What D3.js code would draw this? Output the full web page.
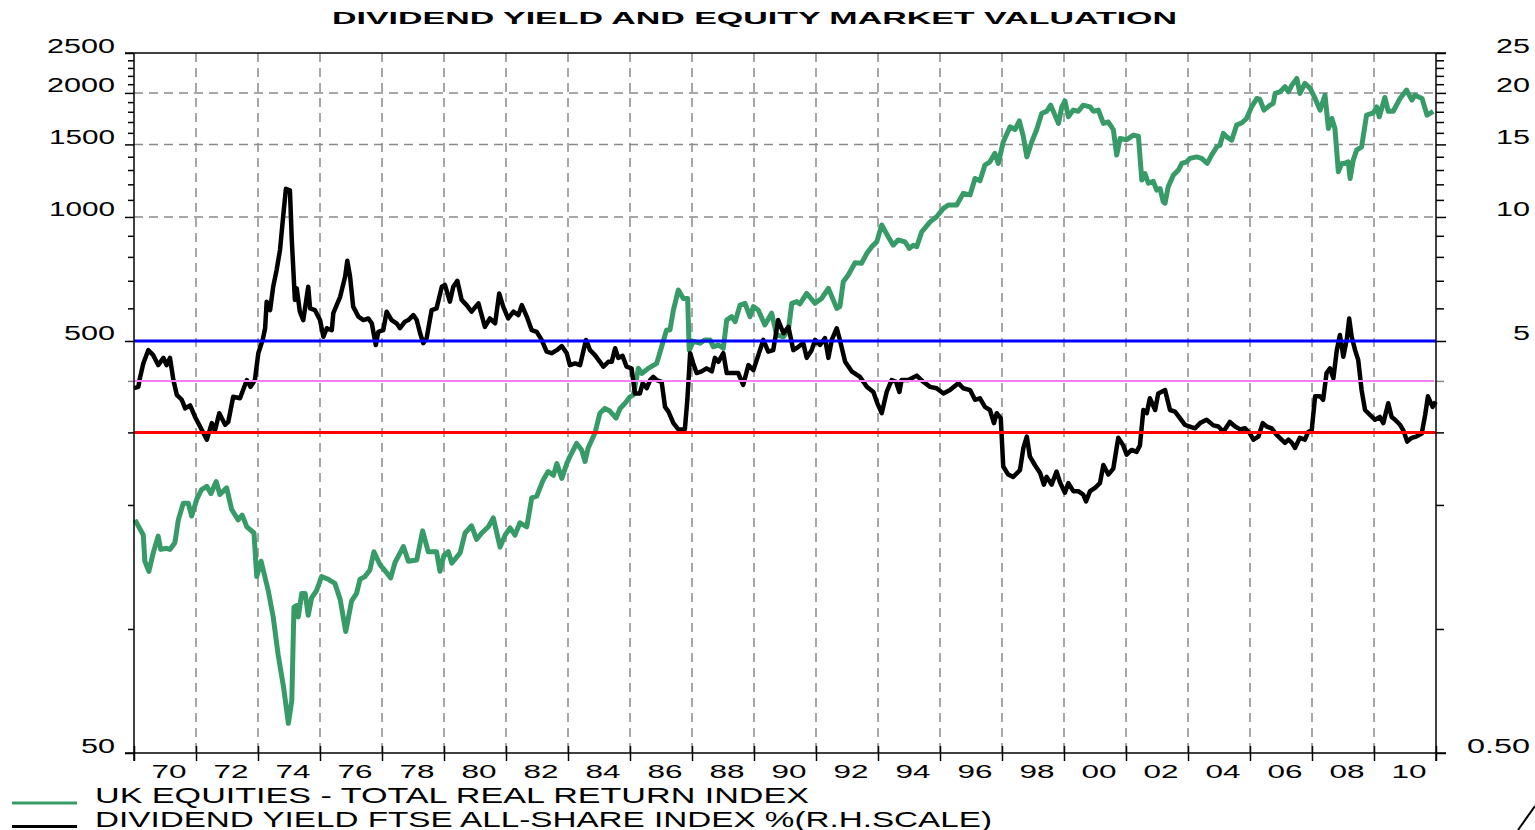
<!DOCTYPE html>
<html>
<head>
<meta charset="utf-8">
<script src="https://cdn.jsdelivr.net/npm/d3@7"></script>
<style>
body{margin:0;background:#fff;}
svg{display:block;font-family:"Liberation Sans",Arial,sans-serif;}
</style>
</head>
<body>
<div id="chart"></div>
<script>
// UK equities, total real return index (left scale)
const eqYears = [1970.03,1970.30,1970.35,1970.48,1970.62,1970.78,1970.86,1971.05,1971.16,1971.32,1971.43,1971.59,1971.75,1971.86,
  1972.02,1972.18,1972.35,1972.48,1972.65,1972.77,1972.99,1973.15,1973.36,1973.49,1973.64,1973.87,1973.96,
  1974.10,1974.33,1974.49,1974.65,1974.82,1974.98,1975.09,1975.16,1975.25,1975.30,1975.41,1975.52,1975.62,1975.73,1975.89,
  1976.05,1976.27,1976.48,1976.65,1976.83,1977.02,1977.18,1977.29,1977.45,1977.61,1977.74,1977.94,
  1978.15,1978.28,1978.42,1978.69,1978.85,1979.12,1979.31,1979.49,1979.76,1979.87,
  1980.00,1980.14,1980.25,1980.52,1980.68,1980.89,1981.05,1981.22,1981.43,1981.59,1981.81,1981.97,
  1982.13,1982.29,1982.45,1982.67,1982.83,1982.99,1983.20,1983.36,1983.53,1983.64,1983.80,1983.96,
  1984.06,1984.28,1984.44,1984.55,1984.65,1984.87,1985.03,1985.19,1985.35,1985.55,1985.68,1985.84,
  1986.00,1986.11,1986.27,1986.38,1986.59,1986.86,1987.02,1987.18,1987.29,1987.40,1987.56,1987.72,1987.86,1987.91,
  1988.04,1988.26,1988.42,1988.58,1988.69,1988.85,1989.01,1989.12,1989.28,1989.39,1989.55,1989.71,1989.87,1989.98,
  1990.14,1990.35,1990.57,1990.73,1990.95,1991.11,1991.22,1991.38,1991.48,1991.70,1991.97,
  1992.18,1992.40,1992.67,1992.77,1992.88,1993.04,1993.26,1993.47,1993.64,1993.80,1993.96,
  1994.12,1994.33,1994.49,1994.65,1994.87,1995.01,1995.14,1995.25,1995.41,1995.68,1995.89,
  1996.11,1996.27,1996.54,1996.75,1996.97,1997.13,1997.29,1997.45,1997.61,1997.77,1997.88,
  1998.04,1998.26,1998.42,1998.56,1998.69,1998.80,1998.96,1999.12,1999.28,1999.44,1999.57,1999.82,1999.93,
  2000.03,2000.14,2000.30,2000.46,2000.62,2000.84,2000.95,2001.11,2001.27,2001.43,2001.59,2001.70,2001.81,
  2002.02,2002.24,2002.40,2002.51,2002.61,2002.72,2002.88,2002.99,2003.10,2003.20,2003.26,2003.36,2003.53,2003.69,2003.80,2003.96,
  2004.06,2004.28,2004.44,2004.62,2004.76,2004.93,2005.03,2005.14,2005.25,2005.41,2005.57,2005.74,2005.89,
  2006.05,2006.22,2006.32,2006.45,2006.65,2006.75,2006.81,2006.97,2007.13,2007.24,2007.35,2007.51,2007.61,2007.77,2007.94,
  2008.10,2008.26,2008.42,2008.53,2008.64,2008.74,2008.85,2008.96,2009.06,2009.17,2009.23,2009.33,2009.44,2009.60,2009.76,2009.98,
  2010.09,2010.17,2010.35,2010.46,2010.62,2010.84,2011.05,2011.22,2011.32,2011.55,2011.71,2011.91];
const eqValues = [184,169,146,138,153,168,156,157,156,162,184,202,202,188,
  206,218,222,213,228,212,220,195,184,189,177,171,134,
  146,124,107,86.5,72.6,59,67,113,114,107,122,122,108,119,124,
  134,132,129,118,98.6,117,122,132,134,139,154,143,
  137,133,145,158.5,146,147,173,154,154,138,
  151,154,144.5,153,171,178,165,171,177,186,158,169,
  176,169,181,177,208,210,230,241,236,252,232,252,
  262,282,272,255,275,299,334,343,338,325,343,353,
  366,370,429,417,429,441,484,532,532,594,665,634,634,475,
  499,494,503,503,484,489,480,562,573,557,611,617,573,606,
  594,547,584,517,512,532,617,623,615,652,617,
  634,671,600,606,696,723,774,772,816,847,870,
  956,895,854,879,870,839,854,847,920,973,1001,
  1049,1069,1069,1141,1131,1240,1224,1337,1361,1427,1349,
  1521,1655,1630,1711,1565,1399,1521,1630,1783,1805,1868,1687,1850,
  1913,1750,1817,1805,1868,1850,1805,1817,1687,1700,1630,1413,1551,
  1540,1580,1570,1229,1275,1207,1220,1162,1172,1089,1080,1183,1264,1299,1349,1361,
  1387,1399,1387,1349,1413,1480,1493,1595,1565,1536,1671,1693,1734,
  1850,1939,1928,1817,1868,1887,1995,2013,2070,2013,2089,2169,1995,2109,2051,
  1939,1817,1975,1640,1734,1640,1287,1349,1349,1361,1240,1374,1453,1480,1767,1790,
  1850,1750,1950,1805,1805,1939,2032,1921,1975,1939,1767,1805];

// Dividend yield FTSE All-Share, % (right scale)
const dyYears = [1970.00,1970.14,1970.19,1970.30,1970.46,1970.62,1970.78,1970.95,1971.05,1971.16,1971.27,1971.38,1971.54,1971.65,1971.81,1971.97,
  1972.13,1972.35,1972.51,1972.61,1972.75,1972.94,1973.04,1973.20,1973.42,1973.64,1973.76,1973.90,
  1974.01,1974.15,1974.23,1974.28,1974.39,1974.49,1974.60,1974.71,1974.81,1974.90,1975.03,1975.09,1975.19,1975.25,1975.35,1975.46,1975.62,1975.68,1975.84,
  1976.00,1976.11,1976.22,1976.38,1976.43,1976.65,1976.81,1976.88,1976.97,1977.07,1977.24,1977.40,1977.56,1977.67,1977.80,1977.88,
  1978.04,1978.15,1978.31,1978.47,1978.58,1978.74,1978.85,1979.01,1979.12,1979.23,1979.33,1979.44,1979.60,1979.76,1979.93,
  1980.03,1980.19,1980.30,1980.43,1980.57,1980.73,1980.89,1981.11,1981.32,1981.48,1981.65,1981.78,1981.91,
  1982.07,1982.24,1982.40,1982.51,1982.67,1982.83,1982.99,1983.15,1983.31,1983.47,1983.64,1983.80,1983.96,
  1984.06,1984.23,1984.39,1984.58,1984.71,1984.87,1985.03,1985.14,1985.30,1985.41,1985.52,1985.62,1985.76,1985.89,
  1986.05,1986.16,1986.32,1986.41,1986.54,1986.65,1986.75,1986.86,1987.02,1987.13,1987.24,1987.40,1987.56,1987.77,1987.85,1987.94,
  1988.04,1988.15,1988.31,1988.47,1988.64,1988.74,1988.85,1989.01,1989.12,1989.33,1989.49,1989.65,1989.82,1989.98,
  1990.14,1990.30,1990.46,1990.62,1990.78,1990.95,1991.11,1991.27,1991.43,1991.59,1991.70,1991.86,1991.97,
  1992.13,1992.29,1992.40,1992.51,1992.67,1992.77,1992.94,1993.15,1993.42,1993.64,1993.85,1993.98,
  1994.12,1994.28,1994.44,1994.58,1994.69,1994.76,1994.98,1995.25,1995.46,1995.68,1995.89,
  1996.11,1996.32,1996.59,1996.75,1996.97,1997.13,1997.29,1997.45,1997.61,1997.74,1997.83,1997.96,
  1998.04,1998.20,1998.36,1998.58,1998.69,1998.80,1998.90,1999.06,1999.23,1999.35,1999.44,1999.60,1999.76,1999.87,
  2000.03,2000.14,2000.30,2000.46,2000.62,2000.71,2000.84,2001.00,2001.16,2001.27,2001.43,2001.59,2001.75,2001.91,
  2002.02,2002.18,2002.34,2002.45,2002.56,2002.67,2002.77,2002.94,2003.04,2003.26,2003.42,2003.58,2003.74,2003.90,
  2004.06,2004.23,2004.39,2004.60,2004.82,2004.98,2005.14,2005.35,2005.52,2005.68,2005.84,
  2006.00,2006.11,2006.27,2006.41,2006.54,2006.70,2006.86,2007.02,2007.13,2007.24,2007.35,2007.45,2007.61,2007.77,2007.88,2007.99,
  2008.10,2008.26,2008.36,2008.47,2008.58,2008.69,2008.80,2008.90,2009.01,2009.12,2009.20,2009.28,2009.39,2009.49,2009.60,2009.71,2009.87,
  2010.03,2010.19,2010.30,2010.46,2010.57,2010.68,2010.84,2010.95,2011.07,2011.22,2011.36,2011.54,2011.65,2011.74,2011.89,2011.99];
const dyValues = [3.84,3.87,4.06,4.41,4.75,4.62,4.37,4.55,4.37,4.55,4.02,3.70,3.60,3.43,3.49,3.27,
  3.10,2.88,3.16,3.03,3.34,3.13,3.18,3.66,3.63,4.02,3.87,4.02,
  4.67,5.03,5.37,6.23,5.94,6.77,7.43,8.31,10.0,11.7,11.6,8.79,6.29,6.71,5.89,5.62,6.77,6.0,5.94,
  5.62,5.12,5.37,5.31,5.84,6.40,7.16,7.83,7.16,6.06,5.73,5.62,5.67,5.52,4.89,5.26,
  5.31,5.89,5.62,5.52,5.37,5.57,5.62,5.78,5.62,5.22,4.94,5.08,5.94,6.0,6.77,
  6.84,6.23,6.77,7.0,6.29,6.11,5.89,6.17,5.41,5.67,5.52,6.52,6.06,
  5.67,5.89,5.78,6.11,5.73,5.31,5.26,5.03,4.71,4.67,4.75,4.86,4.67,
  4.37,4.41,4.37,5.03,4.75,4.62,4.45,4.33,4.45,4.45,4.80,4.55,4.60,4.33,
  4.29,3.73,3.73,3.95,3.84,4.02,4.09,4.02,3.98,3.46,3.37,3.16,3.05,3.05,3.60,4.67,
  4.41,4.18,4.22,4.29,4.22,4.55,4.45,4.67,4.18,4.18,4.18,3.91,4.37,4.25,
  4.62,5.03,4.71,4.75,5.62,5.22,5.41,4.75,4.84,4.94,4.55,4.75,5.03,
  4.89,5.08,4.55,5.03,5.37,5.03,4.45,4.22,4.09,3.87,3.76,3.53,
  3.34,3.76,4.02,3.98,3.76,4.02,4.02,4.12,3.98,3.87,3.84,
  3.73,3.80,3.95,3.84,3.80,3.60,3.63,3.46,3.40,3.16,3.34,3.25,
  2.48,2.37,2.34,2.43,2.75,2.93,2.62,2.50,2.39,2.24,2.34,2.24,2.41,2.27,
  2.14,2.26,2.16,2.16,2.12,2.04,2.16,2.20,2.26,2.50,2.37,2.45,2.91,2.79,
  2.65,2.72,2.69,2.79,3.40,3.34,3.63,3.40,3.73,3.80,3.40,3.37,3.25,3.13,
  3.10,3.07,3.16,3.22,3.12,3.10,3.01,3.18,3.10,3.05,3.07,
  2.98,2.88,2.93,3.16,3.10,3.07,2.96,2.88,2.83,2.88,2.83,2.75,2.91,2.88,3.01,3.03,
  3.67,3.67,3.60,4.18,4.29,4.06,4.75,5.17,4.58,5.03,5.67,5.12,4.75,4.50,3.80,3.40,3.31,
  3.22,3.27,3.16,3.53,3.27,3.22,3.13,3.03,2.85,2.91,2.93,2.98,3.31,3.67,3.46,3.56];

// reference yield levels (%)
const refLevels = [5, 4, 3];

// axis ticks
const leftLabels = [50, 500, 1000, 1500, 2000, 2500];
const leftMinor = [100, 200, 300, 400, 600, 700, 800, 900, 1100, 1200, 1300, 1400,
  1600, 1700, 1800, 1900, 2100, 2200, 2300, 2400];
const rightLabels = [0.5, 5, 10, 15, 20, 25];
const gridLevels = [1000, 1500, 2000];
const yearTicks = d3.range(1970, 2013, 2);
const yearLabels = d3.range(1970, 2011, 2);

const title = "DIVIDEND YIELD AND EQUITY MARKET VALUATION";
const legendNames = ["UK EQUITIES - TOTAL REAL RETURN INDEX",
  "DIVIDEND YIELD FTSE ALL-SHARE INDEX %(R.H.SCALE)"];

const W = 1535, H = 830;
const margin = {top: 53, right: 99, bottom: 77, left: 134};
const x0 = margin.left, x1 = W - margin.right, yTop = margin.top, yBot = H - margin.bottom;

const svg = d3.select("#chart").append("svg")
  .attr("width", W).attr("height", H);

const x = d3.scaleLinear().domain([1970, 2012]).range([x0, x1]);
const yL = d3.scaleLog().domain([50, 2500]).range([yBot, yTop]);
const yR = d3.scaleLog().domain([0.5, 25]).range([yBot, yTop]);

// title
svg.append("text")
  .attr("x", 332).attr("y", 24)
  .attr("font-size", 16.5).attr("font-weight", "bold")
  .attr("textLength", 845).attr("lengthAdjust", "spacingAndGlyphs")
  .text(title);

// grid
svg.append("g")
  .selectAll("line")
  .data(yearTicks.filter(d => d > 1970 && d < 2012))
  .join("line")
  .attr("x1", d => x(d)).attr("x2", d => x(d))
  .attr("y1", yTop).attr("y2", yBot)
  .attr("stroke", "#8a8a8a").attr("stroke-width", 1.5)
  .attr("stroke-dasharray", "9,6");

svg.append("g")
  .selectAll("line")
  .data(gridLevels)
  .join("line")
  .attr("x1", x0).attr("x2", x1)
  .attr("y1", d => yL(d)).attr("y2", d => yL(d))
  .attr("stroke", "#8a8a8a").attr("stroke-width", 1.5)
  .attr("stroke-dasharray", "9,6");

// series
const eqLine = d3.line()
  .x((d, i) => x(eqYears[i]))
  .y(d => yL(d));
const dyLine = d3.line()
  .x((d, i) => x(dyYears[i]))
  .y(d => yR(d));

svg.append("path")
  .datum(eqValues)
  .attr("d", eqLine)
  .attr("fill", "none")
  .attr("stroke", "#379b67")
  .attr("stroke-width", 5)
  .attr("stroke-linejoin", "round");

svg.append("path")
  .datum(dyValues)
  .attr("d", dyLine)
  .attr("fill", "none")
  .attr("stroke", "#000")
  .attr("stroke-width", 4.5)
  .attr("stroke-linejoin", "round");

// reference lines
const refColors = ["#0000ff", "#f47ef4", "#ff0000"];
const refWidths = [3, 2, 3];
svg.append("g")
  .selectAll("line")
  .data(refLevels)
  .join("line")
  .attr("x1", x0)
  .attr("x2", (d, i) => i == 1 ? x1 - 2 : x1)
  .attr("y1", d => yR(d)).attr("y2", d => yR(d))
  .attr("stroke", (d, i) => refColors[i])
  .attr("stroke-width", (d, i) => refWidths[i]);

// label width helper (text in the original is stretched)
function labelLen(s) {
  let n = 0;
  for (const c of s) n += c == "." ? 12 : 17;
  if (s.length == 4 && s[0] == "1") n -= 2;
  return n;
}

// left axis
const gLminor = svg.append("g").attr("transform", `translate(${x0},0)`)
  .call(d3.axisLeft(yL).tickValues(leftMinor).tickSize(6).tickFormat(""));
gLminor.select(".domain").remove();
gLminor.selectAll(".tick line").attr("stroke-width", 1.5)
  .attr("stroke", d => d == 400 ? "#888" : "#000");

const gL = svg.append("g").attr("transform", `translate(${x0},0)`)
  .call(d3.axisLeft(yL).tickValues(leftLabels).tickSize(9).tickPadding(10)
    .tickFormat(d3.format("d")));
gL.attr("font-size", 20).attr("font-family", null);
gL.select(".domain").remove();
gL.selectAll(".tick line").attr("stroke-width", 1.5);
gL.selectAll(".tick text")
  .attr("dy", null).attr("y", -1)
  .attr("textLength", function() { return labelLen(this.textContent); })
  .attr("lengthAdjust", "spacingAndGlyphs");

// right axis
const gRminor = svg.append("g").attr("transform", `translate(${x1},0)`)
  .call(d3.axisRight(yR).tickValues(leftMinor.map(d => d / 100)).tickSize(8).tickFormat(""));
gRminor.select(".domain").remove();
gRminor.selectAll(".tick line").attr("stroke-width", 1.5)
  .attr("stroke", d => d == 4 ? "#888" : "#000");

const gR = svg.append("g").attr("transform", `translate(${x1},0)`)
  .call(d3.axisRight(yR).tickValues(rightLabels).tickSize(10)
    .tickFormat(d => d < 1 ? d3.format(".2f")(d) : d3.format("d")(d)));
gR.attr("font-size", 20).attr("font-family", null);
gR.select(".domain").remove();
gR.selectAll(".tick line").attr("stroke-width", 1.5);
gR.selectAll(".tick text")
  .attr("dy", null).attr("y", -1)
  .attr("x", 94).attr("text-anchor", "end")
  .attr("textLength", function() { return labelLen(this.textContent); })
  .attr("lengthAdjust", "spacingAndGlyphs");

// bottom axis
const gB = svg.append("g").attr("transform", `translate(0,${yBot})`)
  .call(d3.axisBottom(x).tickValues(yearTicks).tickSize(8).tickFormat(""));
gB.select(".domain").remove();
gB.selectAll(".tick line").attr("y1", -7).attr("stroke-width", 1.5);

svg.append("g")
  .selectAll("text")
  .data(yearLabels)
  .join("text")
  .attr("x", d => x(d + 1) + 4)
  .attr("y", 778)
  .attr("text-anchor", "middle")
  .attr("font-size", 18.5)
  .attr("textLength", 35).attr("lengthAdjust", "spacingAndGlyphs")
  .text(d => String(d).slice(2));

// frame lines
const frame = svg.append("g").attr("stroke", "#000").attr("stroke-width", 1.5);
frame.append("line").attr("x1", x0 - 9).attr("x2", x1 + 10).attr("y1", yTop).attr("y2", yTop);
frame.append("line").attr("x1", x0 - 9).attr("x2", x1 + 10).attr("y1", yBot).attr("y2", yBot);
frame.append("line").attr("x1", x0).attr("x2", x0).attr("y1", yTop).attr("y2", yBot + 8);
frame.append("line").attr("x1", x1).attr("x2", x1).attr("y1", yTop).attr("y2", yBot + 8);

// legend
const legend = svg.append("g");
const legendColors = ["#379b67", "#000"];
legendNames.forEach((name, i) => {
  const ly = 803 + i * 23.5;
  legend.append("line")
    .attr("x1", 12).attr("x2", 77)
    .attr("y1", ly).attr("y2", ly)
    .attr("stroke", legendColors[i]).attr("stroke-width", 3);
  legend.append("text")
    .attr("x", 95).attr("y", ly)
    .attr("font-size", 22)
    .attr("textLength", i == 0 ? 714 : 897).attr("lengthAdjust", "spacingAndGlyphs")
    .text(name);
});

// small stray mark in the corner of the original
svg.append("line")
  .attr("x1", 1518).attr("y1", 830).attr("x2", 1535).attr("y2", 806)
  .attr("stroke", "#000").attr("stroke-width", 2);
</script>
</body>
</html>
